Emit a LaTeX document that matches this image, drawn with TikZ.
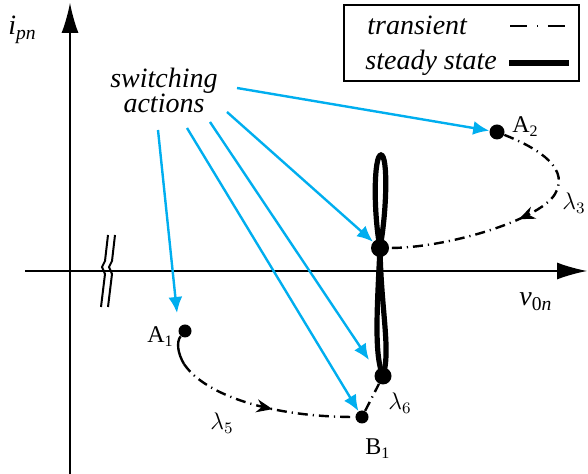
\documentclass[tikz,border=0pt]{standalone}
\usepackage{fontspec}
\setmainfont{LiberationSerif}[Extension=.ttf, UprightFont=*-Regular, ItalicFont=*-Italic, BoldFont=*-Bold, BoldItalicFont=*-BoldItalic]
\usetikzlibrary{arrows.meta,decorations.markings}
\definecolor{actblue}{RGB}{0,174,239}
\begin{document}
\begin{tikzpicture}[x=0.5pt,y=-0.5pt,
  big/.style={font=\fontsize{14}{12.5}\selectfont},
  itl/.style={font=\fontsize{14}{12.5}\selectfont\itshape},
  lbl/.style={font=\fontsize{12}{12}\selectfont, anchor=base west, inner sep=0pt},
  dot/.style={circle, fill, inner sep=0pt, minimum size=#1},
  act/.style={-{Latex[length=8pt,width=7pt]}, actblue, line width=1.2pt},
  trans/.style={line width=1.2pt, dash pattern=on 5pt off 2.5pt on 0.6pt off 2.5pt},
  steady/.style={line width=2.6pt},
  axis/.style={-{Latex[length=15pt,width=8.5pt]}, line width=0.6pt},
  midarrow/.style={postaction={decorate}, decoration={markings,
    mark=at position #1 with {\arrow{Stealth[length=8pt,width=6.5pt]}}}}]
\useasboundingbox (0,0) rectangle (588,474);
\coordinate (o1) at (70,474);
\coordinate (o2) at (70,3);
\coordinate (h1) at (25,271);
\coordinate (h2) at (587,271);
\draw[axis] (o1) -- (o2);
\draw[axis] (h1) -- (h2);
\draw[line width=1pt] (108,235) -- (105,261) -- (102,267) -- (105,274) -- (101,307);
\draw[line width=1pt] (115,235) -- (112,261) -- (109,267) -- (112,274) -- (108,307);
\node[big, anchor=base west, inner sep=0pt] (ipn) at (8,35) {\textit{i}\textsubscript{\textit{pn}}};
\node[big, anchor=base west, inner sep=0pt] (v0n) at (519,306) {\textit{v}\textsubscript{0\textit{n}}};
\draw[line width=1pt] (344,5) rectangle (579,81);
\node[itl, anchor=base west, inner sep=0pt] (lt) at (367,35) {transient};
\node[itl, anchor=base west, inner sep=0pt] (ls) at (365,70) {steady state};
\coordinate (t1) at (510,26);
\coordinate (t2) at (568,26);
\coordinate (u1) at (509,63);
\coordinate (u2) at (569,63);
\draw[line width=1.2pt, dash pattern=on 8.5pt off 5pt on 0.6pt off 5pt] (t1) -- (t2);
\draw[steady] (u1) -- (u2);
\node[dot=15*0.5pt] (A2) at (497,132) {};
\node[dot=13*0.5pt] (A1) at (185,331) {};
\node[dot=13*0.5pt] (B1) at (362,417) {};
\node[dot=18*0.5pt] (P) at (380,248) {};
\node[dot=17*0.5pt] (Q) at (383,376) {};
\draw[steady] (P.center) .. controls (373,210) and (374,155) .. (381,155) .. controls (388,155) and (387,210) .. (P.center);
\draw[steady] (P.center) .. controls (377,310) and (374,355) .. (Q.center);
\draw[steady] (P.center) .. controls (381,310) and (391,350) .. (Q.center);
\draw[trans, midarrow=0.5] (A2) .. controls (530,145) and (570,165) .. (556,192) .. controls (545,218) and (450,248) .. (P);
\coordinate (a1e) at (184,364);
\draw[line width=1.2pt] (A1) .. controls (176,342) and (178,354) .. (a1e);
\draw[trans, midarrow=0.55] (a1e) .. controls (205,395) and (270,417) .. (B1);
\draw[trans] (B1) -- (Q);
\node[lbl] (A2l) at (512,133) {A\textsubscript{2}};
\node[lbl] (A1l) at (147,343) {A\textsubscript{1}};
\node[lbl] (B1l) at (365,455) {B\textsubscript{1}};
\node[lbl] (l3) at (562,210) {$\lambda_3$};
\node[lbl] (l5) at (210,430) {$\lambda_5$};
\node[lbl] (l6) at (388,410) {$\lambda_6$};
\node[itl, align=center] (sw) at (164,90) {switching\\actions};
\coordinate (s1) at (237,88);
\coordinate (s2) at (227,112);
\coordinate (s3) at (210,122);
\coordinate (s4) at (187,128);
\coordinate (s5) at (158,130);
\coordinate (e3) at (369,360);
\coordinate (e5) at (177,313);
\draw[act] (s1) -- (A2);
\draw[act] (s2) -- (P);
\draw[act] (s3) -- (e3);
\draw[act] (s4) -- (B1);
\draw[act] (s5) -- (e5);
\end{tikzpicture}
\end{document}
